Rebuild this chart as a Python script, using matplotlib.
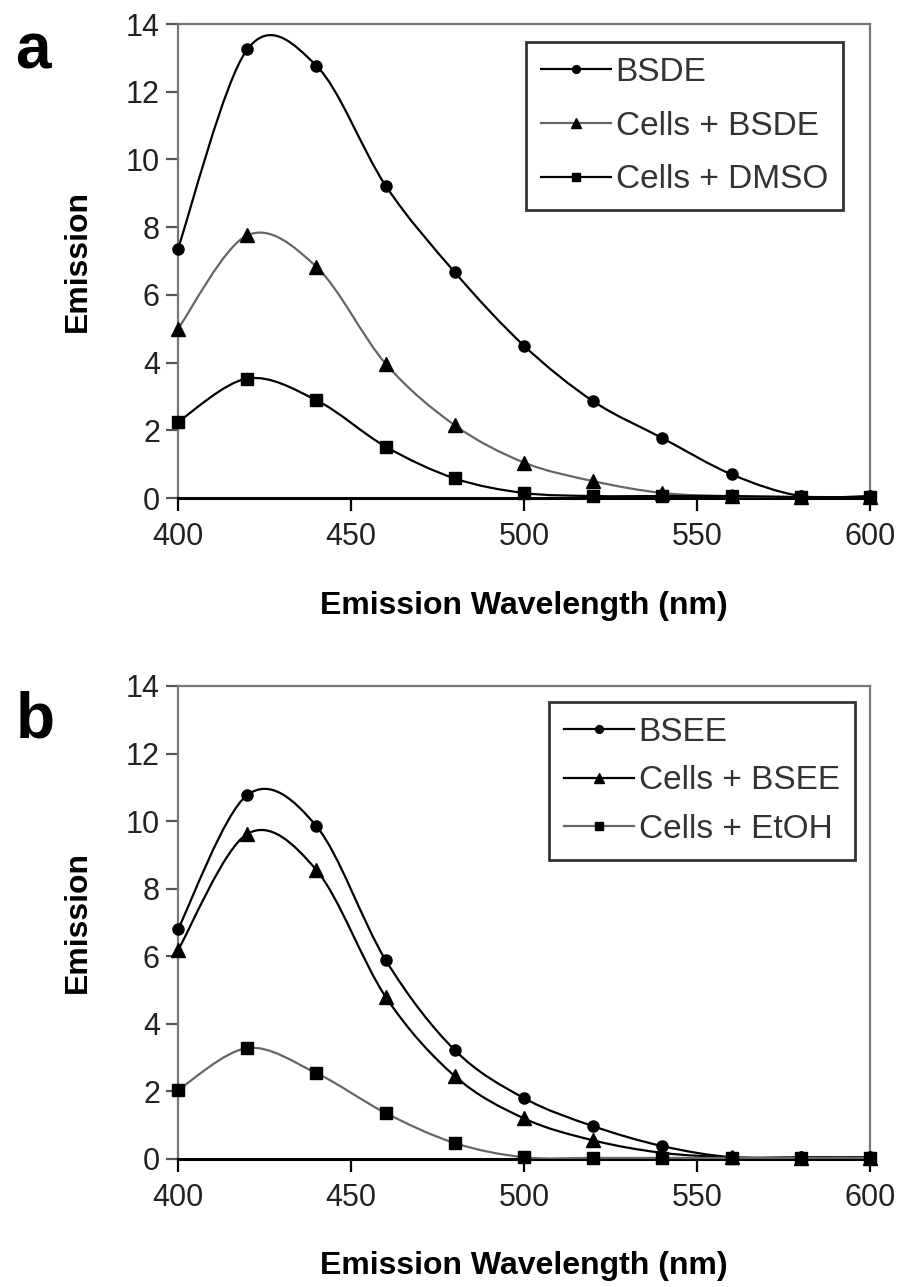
import matplotlib
matplotlib.use("Agg")
import matplotlib.pyplot as plt
from matplotlib.path import Path
from matplotlib.patches import PathPatch
from matplotlib.lines import Line2D
from matplotlib import font_manager

# ---------------- data ----------------
wavelength = [400, 420, 440, 460, 480, 500, 520, 540, 560, 580, 600]

# panel a
bsde        = [7.37, 13.25, 12.77, 9.23, 6.67, 4.50, 2.86, 1.77, 0.70, 0.06, 0.06]
cells_bsde  = [5.00, 7.76, 6.83, 3.97, 2.15, 1.05, 0.50, 0.15, 0.05, 0.03, 0.03]
cells_dmso  = [2.25, 3.53, 2.89, 1.52, 0.58, 0.15, 0.06, 0.06, 0.06, 0.03, 0.03]
labels_a = ["BSDE", "Cells + BSDE", "Cells + DMSO"]

# panel b
bsee        = [6.80, 10.77, 9.85, 5.89, 3.22, 1.80, 0.97, 0.38, 0.05, 0.05, 0.05]
cells_bsee  = [6.18, 9.62, 8.55, 4.80, 2.45, 1.20, 0.55, 0.18, 0.05, 0.03, 0.03]
cells_etoh  = [2.04, 3.28, 2.54, 1.36, 0.47, 0.05, 0.03, 0.03, 0.03, 0.03, 0.03]
labels_b = ["BSEE", "Cells + BSEE", "Cells + EtOH"]

xticks = [400, 450, 500, 550, 600]
yticks = [0, 2, 4, 6, 8, 10, 12, 14]

# ---------------- fonts ----------------
avail = {f.name for f in font_manager.fontManager.ttflist}
narrow = "Liberation Sans Narrow" if "Liberation Sans Narrow" in avail else "Liberation Sans"
FAM = [narrow, "DejaVu Sans"]
plt.rcParams["font.family"] = FAM


def smooth_path(x, y):
    """Excel-style smoothed line: Catmull-Rom through the data points as cubic Beziers."""
    pts = list(zip(x, y))
    n = len(pts)
    verts = [pts[0]]
    codes = [Path.MOVETO]
    for i in range(n - 1):
        p0 = pts[i - 1] if i > 0 else pts[i]
        p1 = pts[i]
        p2 = pts[i + 1]
        p3 = pts[i + 2] if i + 2 < n else pts[i + 1]
        c1 = (p1[0] + (p2[0] - p0[0]) / 6.0, p1[1] + (p2[1] - p0[1]) / 6.0)
        c2 = (p2[0] - (p3[0] - p1[0]) / 6.0, p2[1] - (p3[1] - p1[1]) / 6.0)
        verts += [c1, c2, p2]
        codes += [Path.CURVE4] * 3
    return Path(verts, codes)


fig = plt.figure(figsize=(9.05, 12.87), dpi=100)
fig.patch.set_facecolor("white")

axA = fig.add_axes([0.1967, 0.613, 0.7646, 0.3683])
axB = fig.add_axes([0.1967, 0.0995, 0.7646, 0.3675])

styles = [("o", 8.0), ("^", 9.5), ("s", 9.0)]


def draw_panel(ax, series, labels, line_colors, letter, leg_anchor, letter_y, lspace):
    for (ys, (mk, ms), col) in zip(series, styles, line_colors):
        ax.add_patch(PathPatch(smooth_path(wavelength, ys), fill=False,
                               edgecolor=col, lw=1.6, zorder=3, clip_on=True))
        ax.plot(wavelength, ys, linestyle="none", marker=mk, ms=ms,
                color="black", zorder=4, clip_on=False)
    ax.set_xlim(400, 600)
    ax.set_ylim(0, 14)
    ax.set_xticks(xticks)
    ax.set_yticks(yticks)
    ax.tick_params(axis="both", direction="out", length=9, width=1.6,
                   labelsize=22, labelcolor="#222222", pad=4)
    ax.tick_params(axis="y", colors="#555555", labelcolor="#222222")
    ax.tick_params(axis="x", colors="black", labelcolor="#222222", pad=8)
    for s in ["left", "top", "right"]:
        ax.spines[s].set_color("#777777")
        ax.spines[s].set_linewidth(1.6)
    ax.spines["bottom"].set_color("black")
    ax.spines["bottom"].set_linewidth(2.2)
    ax.set_ylabel("Emission", fontsize=23, fontweight="bold", labelpad=24)
    ax.set_xlabel("Emission Wavelength (nm)", fontsize=23, fontweight="bold", labelpad=28)

    handles = []
    for (mk, ms), col in zip(styles, line_colors):
        handles.append(Line2D([], [], color=col, lw=1.6, marker=mk,
                              ms=ms * 0.7, markerfacecolor="black",
                              markeredgecolor="black"))
    leg = ax.legend(handles, labels, loc="upper right", bbox_to_anchor=leg_anchor,
                    borderaxespad=0, frameon=True, fancybox=False, fontsize=24,
                    handlelength=2.1, handletextpad=0.15, labelspacing=lspace,
                    borderpad=0.45)
    leg.get_frame().set_edgecolor("black")
    leg.get_frame().set_linewidth(2.0)
    for t in leg.get_texts():
        t.set_color("#333333")

    ax.text(-0.235, letter_y, letter, transform=ax.transAxes, fontsize=46,
            fontweight="bold", family=["Liberation Sans", "DejaVu Sans"],
            ha="left", va="top")


draw_panel(axA, [bsde, cells_bsde, cells_dmso], labels_a,
           ["black", "#666666", "black"], "a", (0.961, 0.962), 1.005, 0.68)
draw_panel(axB, [bsee, cells_bsee, cells_etoh], labels_b,
           ["black", "black", "#666666"], "b", (0.978, 0.966), 0.99, 0.52)

fig.savefig("out.png", dpi=100, facecolor="white")
